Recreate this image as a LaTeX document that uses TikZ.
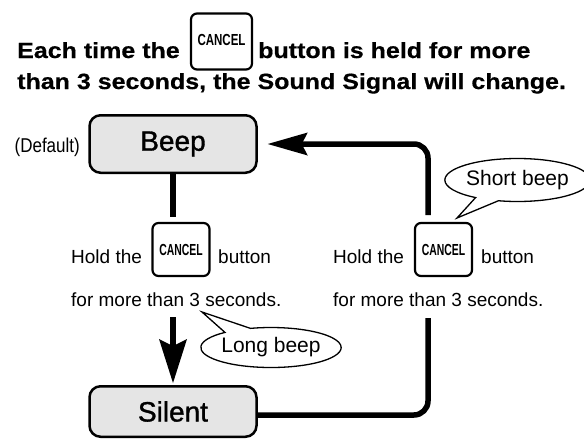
\documentclass[tikz,border=0pt]{standalone}
\usepackage{fontspec}
\setmainfont{Liberation Sans}
\newfontfamily\medfont{Liberation Sans}[FakeBold=1.2]
\newfontfamily\titlefont{Liberation Sans Bold}[FakeBold=0.5]
\usepackage{graphicx}
\usetikzlibrary{arrows.meta,shapes.callouts}
\definecolor{boxgray}{gray}{0.9}
\newcommand{\cancellabel}[1]{{\fontsize{16}{16}\selectfont\bfseries\scalebox{#1}[1]{CANCEL}}}
\newcommand{\titleline}[1]{\scalebox{1}[0.88]{#1}}
\begin{document}
\begin{tikzpicture}[x=1pt,y=-1pt,
  statebox/.style={draw, line width=2.5pt, rounded corners=11pt, fill=boxgray,
    minimum width=167pt, minimum height=57.5pt, inner sep=0pt,
    font=\medfont\fontsize{28}{28}\selectfont},
  keybox/.style={draw, line width=2.2pt, rounded corners=6pt, fill=white,
    inner sep=0pt, minimum width=57pt, minimum height=53pt},
  titletext/.style={inner sep=0pt, font=\titlefont\fontsize{25}{30}\selectfont},
  smalltext/.style={inner sep=0pt, font=\fontsize{19}{23}\selectfont},
  bubble/.style={ellipse callout, draw, line width=1.3pt, fill=white,
    inner sep=0pt, font=\fontsize{21}{25}\selectfont},
  conn/.style={line width=5.5pt}
]
\path[use as bounding box] (0,0) rectangle (584,440);

% title
\node[titletext, anchor=base west] (t1a) at (17,58) {\titleline{Each time the}};
\node[keybox, minimum width=61pt, minimum height=56pt] (tkey) at (221.5,41.5)
  {\raisebox{4pt}{\cancellabel{0.72}}};
\node[titletext, anchor=base west] (t1b) at (258,58) {\titleline{button is held for more}};
\node[titletext, anchor=base west] (t2) at (17,89)
  {\titleline{than 3 seconds, the Sound Signal will change.}};

% states
\node[statebox] (beep) at (173,144) {Beep};
\node[statebox, minimum height=50.5pt] (silent) at (173,411.5) {Silent};
\node[anchor=base east, inner sep=0pt, font=\fontsize{20}{24}\selectfont]
  (default) at (80,152) {\scalebox{0.85}[1]{(Default)}};

% left instruction
\node[smalltext, anchor=base west] (lhold) at (71,263) {Hold the};
\node[keybox] (lkey) at (181,249.5) {\cancellabel{0.65}};
\node[smalltext, anchor=base west] (lbtn) at (218,263) {button};
\node[smalltext, anchor=base west] (lfor) at (71,306) {for more than 3 seconds.};

% right instruction
\node[smalltext, anchor=base west] (rhold) at (333,263) {Hold the};
\node[keybox] (rkey) at (443.5,249.5) {\cancellabel{0.65}};
\node[smalltext, anchor=base west] (rbtn) at (481,263) {button};
\node[smalltext, anchor=base west] (rfor) at (333,306) {for more than 3 seconds.};

% connectors
\coordinate (lgapT) at (173,217);
\coordinate (lgapB) at (173,317);
\coordinate (rgapT) at (428,215);
\coordinate (rgapB) at (428,318);
\draw[conn] (beep.south) -- (lgapT);
\draw[conn, -{Stealth[length=44pt,width=28pt,inset=7pt,line width=0pt]}, shorten >=2pt]
  (lgapB) -- (silent.north);
\draw[conn, rounded corners=14pt] ([yshift=-3.5pt]silent.east) -| (rgapB);
\draw[conn, rounded corners=14pt,
  -{Stealth[length=40pt,width=23pt,inset=6pt,line width=0pt]}, shorten >=10pt]
  (rgapT) |- (beep.east);

% bubbles
\node[bubble, minimum width=131pt, minimum height=40pt,
  callout absolute pointer={(202,312)}, callout pointer arc=24]
  (long) at (271,347.5) {Long beep};
\node[bubble, minimum width=124pt, minimum height=43pt,
  callout absolute pointer={(457,218)}, callout pointer arc=20]
  (short) at (517.5,180) {Short beep};
\end{tikzpicture}
\end{document}
